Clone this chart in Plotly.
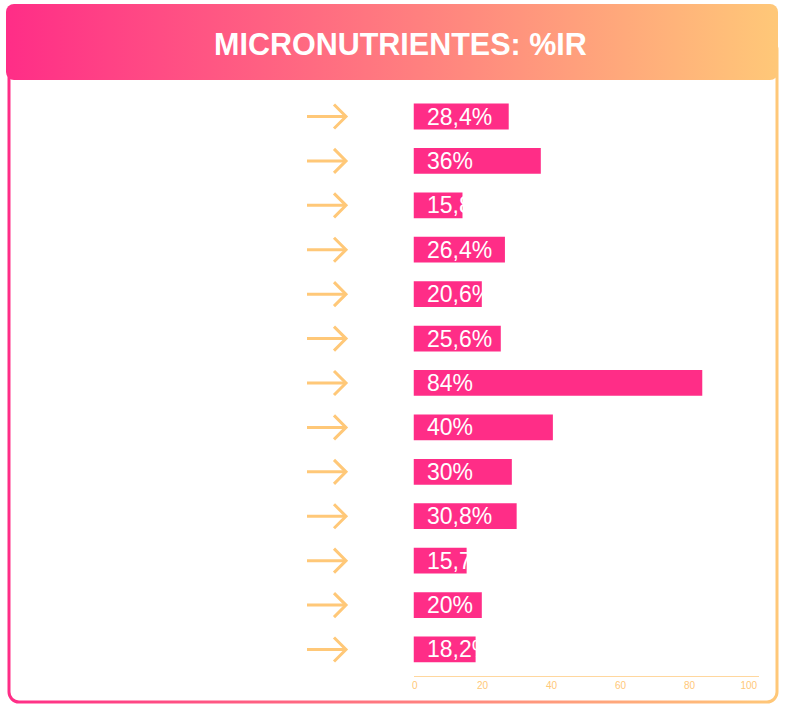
import base64
import plotly.graph_objects as go

# ---- data ----
labels = ["28,4%", "36%", "15,8%", "26,4%", "20,6%", "25,6%", "84%",
          "40%", "30%", "30,8%", "15,7%", "20%", "18,2%"]
values = [27.6, 36.9, 14.2, 26.5, 19.8, 25.3, 83.7,
          40.4, 28.5, 29.9, 15.4, 19.8, 18.0]
rows = list(range(len(labels)))
x_ticks = [0, 20, 40, 60, 80, 100]
x_tick_text = ["\u00a00", "20", "40", "60", "80", "100" + "\u00a0" * 7]
title_text = "MICRONUTRIENTES: %IR"

PINK = "#FF2D87"
ORANGE = "#FFC878"
W, H = 786, 708
T, B = 94, 32
PH = H - T - B

# ---- background decoration (gradient banner + gradient border) ----
svg = f'''<svg xmlns="http://www.w3.org/2000/svg" width="{W}" height="{H}" viewBox="0 0 {W} {H}" preserveAspectRatio="none">
<defs><linearGradient id="g" gradientUnits="userSpaceOnUse" x1="6" y1="0" x2="778" y2="0">
<stop offset="0" stop-color="{PINK}"/><stop offset="1" stop-color="{ORANGE}"/></linearGradient></defs>
<rect x="9" y="40" width="768" height="662" rx="10" ry="10" fill="none" stroke="url(#g)" stroke-width="3"/>
<rect x="6" y="4" width="772" height="76" rx="8" ry="8" fill="url(#g)"/>
</svg>'''
src = "data:image/svg+xml;base64," + base64.b64encode(svg.encode()).decode()

fig = go.Figure()

fig.add_trace(go.Bar(
    x=values, y=rows, orientation="h", width=0.58,
    marker=dict(color=PINK, line=dict(width=0)),
    hoverinfo="skip", showlegend=False,
))

# arrows (decoration, one per row) on a full-width helper axis
ax, ay = [], []
d = 12 / 44.42
for r in rows:
    ax += [307, 346, None, 334, 346, 334, None]
    ay += [r, r, None, r - d, r, r + d, None]
fig.add_trace(go.Scatter(
    x=ax, y=ay, xaxis="x2", yaxis="y", mode="lines",
    line=dict(color=ORANGE, width=3), hoverinfo="skip", showlegend=False,
))

annotations = []
for r, lab in zip(rows, labels):
    annotations.append(dict(
        x=0, y=r, xref="x", yref="y", text=lab, showarrow=False,
        xanchor="left", yanchor="middle", xshift=11,
        font=dict(family="Liberation Sans, Arial, sans-serif", size=23, color="white"),
    ))
annotations.append(dict(
    x=400.5 / W, y=(H - B - 44) / PH, xref="paper", yref="paper", text=title_text,
    showarrow=False, xanchor="center", yanchor="middle",
    font=dict(family="Liberation Sans, Arial, sans-serif", size=30.5,
              color="white", weight="bold"),
))

fig.update_layout(
    width=W, height=H, autosize=False,
    margin=dict(l=0, r=0, t=T, b=B, pad=0, autoexpand=False),
    paper_bgcolor="white", plot_bgcolor="rgba(0,0,0,0)",
    images=[dict(source=src, xref="paper", yref="paper", x=0, y=1 + T / PH,
                 sizex=1, sizey=H / PH, xanchor="left", yanchor="top",
                 sizing="stretch", layer="below")],
    xaxis=dict(domain=[413.5 / W, 758.5 / W], range=[0, 100],
               tickvals=x_ticks, ticktext=x_tick_text, automargin=False,
               showline=True, linecolor="#FFD79E", linewidth=1, ticks="",
               showgrid=False, zeroline=False,
               tickfont=dict(family="Liberation Sans, Arial, sans-serif",
                             size=10, color=ORANGE)),
    xaxis2=dict(domain=[0, 1], range=[0, W], anchor="y", visible=False,
                automargin=False, showgrid=False, zeroline=False),
    yaxis=dict(range=[12.597, -0.5065], visible=False, showgrid=False,
               automargin=False, zeroline=False),
    annotations=annotations,
    bargap=0.42,
)

fig.write_html("out.html")
